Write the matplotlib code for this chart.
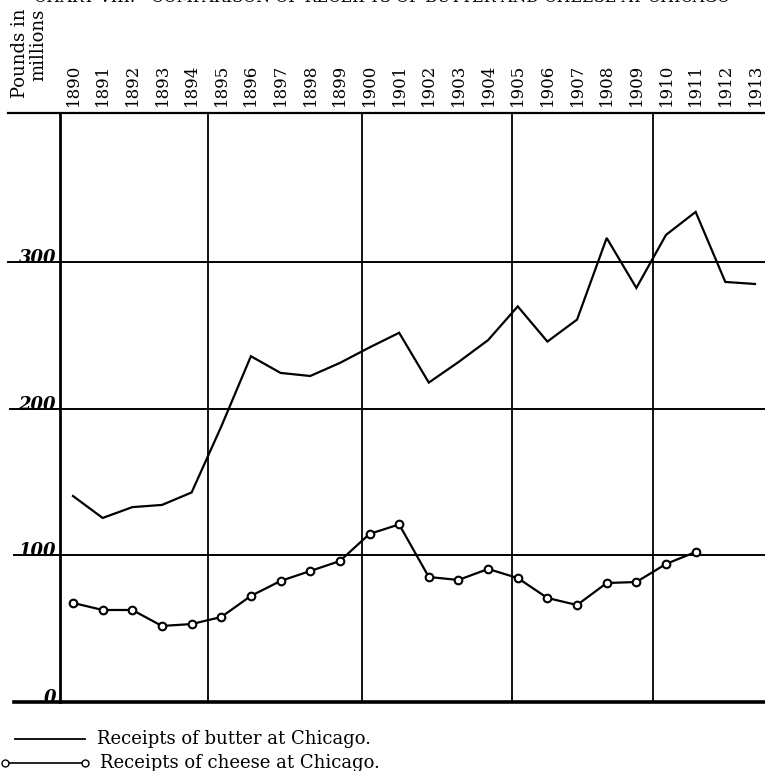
import matplotlib
matplotlib.use("Agg")
import matplotlib.pyplot as plt
from matplotlib.lines import Line2D

# ---- data ----
years = list(range(1890, 1914))
butter = [140.6, 125.6, 133, 134.5, 143, 188, 236, 224.6, 222.5, 231.4, 242, 252,
          218, 232, 247, 270, 246, 261, 316.7, 282.6, 318.8, 334.5, 286.7, 285.3]
cheese_years = list(range(1890, 1912))
cheese = [67.6, 62.8, 62.8, 51.9, 53.2, 58, 72.4, 82.6, 89.4, 96.2, 114.7, 121.2,
          85.3, 83.3, 90.8, 84.6, 71, 66.2, 81.2, 81.9, 94.2, 102.4]
y_ticks = [0, 100, 200, 300]
y_tick_labels = ["0", "100", "200", "300"]
year_labels = [str(y) for y in years]
title = "CHART VIII.—COMPARISON OF RECEIPTS OF BUTTER AND CHEESE AT CHICAGO"
y_title = "Pounds in\nmillions"
legend_butter = "Receipts of butter at Chicago."
legend_cheese = "Receipts of cheese at Chicago."

W, H = 765, 771
fig = plt.figure(figsize=(W / 100, H / 100), dpi=100)
serif = ["DejaVu Serif"]

def fx(px):
    return px / W

def fy(py):
    return 1 - py / H

ax_left, ax_right, ax_top, ax_bottom = 60, 765, 113, 702
ax = fig.add_axes([fx(ax_left), fy(ax_bottom), (ax_right - ax_left) / W, (ax_bottom - ax_top) / H])
x0 = 1890 - (73 - ax_left) / 29.65
x1 = 1890 + (ax_right - 73) / 29.65
ax.set_xlim(x0, x1)
ax.set_ylim(0, 402)
for s in ax.spines.values():
    s.set_visible(False)
ax.set_xticks([])
ax.set_yticks([])
ax.patch.set_alpha(0)

ytr = ax.get_yaxis_transform()
xtr = ax.get_xaxis_transform()
axw = ax_right - ax_left

def axx(px):
    return (px - ax_left) / axw

# horizontal rules
ax.plot([axx(8), 1], [402, 402], color="black", lw=1.6, transform=ytr, clip_on=False)
ax.plot([axx(14), 1], [0, 0], color="black", lw=2.6, transform=ytr, clip_on=False)
for v, start in zip([100, 200, 300], [14, 10, 8]):
    ax.plot([axx(start), 1], [v, v], color="black", lw=1.4, transform=ytr, clip_on=False)

# vertical rules
ax.plot([x0, x0], [0, 402], color="black", lw=2.0, clip_on=False)
for xv in [1894.55, 1899.75, 1904.8, 1909.56]:
    ax.plot([xv, xv], [0, 402], color="black", lw=1.3)

# data lines
ax.plot(years, butter, color="black", lw=1.6, solid_joinstyle="miter")
ax.plot(cheese_years, cheese, color="black", lw=1.6, marker="o", markersize=5.5,
        markerfacecolor="white", markeredgecolor="black", markeredgewidth=1.5)

# y labels (handwritten style)
for v, lab in zip(y_ticks, y_tick_labels):
    ax.text(axx(56), v + 3, lab, transform=ytr, ha="right", va="center",
            fontsize=13, fontstyle="italic", fontweight="bold", family=serif)

# year labels
for yr, lab in zip(years, year_labels):
    ax.text(yr, (ax_bottom - 106) / (ax_bottom - ax_top), lab, transform=xtr,
            rotation=90, ha="center", va="bottom", fontsize=12, family=serif)

# y title
fig.text(fx(29), fy(9), y_title, rotation=90, ha="center", va="top",
         fontsize=13, family=serif, linespacing=1.0, multialignment="right")

# cropped title (cut off at the top edge, as in the source scan)
fig.text(fx(382), fy(-3), title, ha="center", va="center", fontsize=11.5,
         family=serif)

# legend
fig.add_artist(Line2D([fx(15), fx(85)], [fy(739), fy(739)], color="black", lw=1.3,
                      transform=fig.transFigure))
fig.text(fx(97), fy(739), legend_butter, ha="left", va="center", fontsize=13, family=serif)
fig.add_artist(Line2D([fx(5), fx(85)], [fy(763), fy(763)], color="black", lw=1.2,
                      marker="o", markersize=5, markerfacecolor="white",
                      markeredgecolor="black", markeredgewidth=1.0,
                      transform=fig.transFigure))
fig.text(fx(100), fy(763), legend_cheese, ha="left", va="center", fontsize=13, family=serif)

fig.savefig("out.png", dpi=100)
